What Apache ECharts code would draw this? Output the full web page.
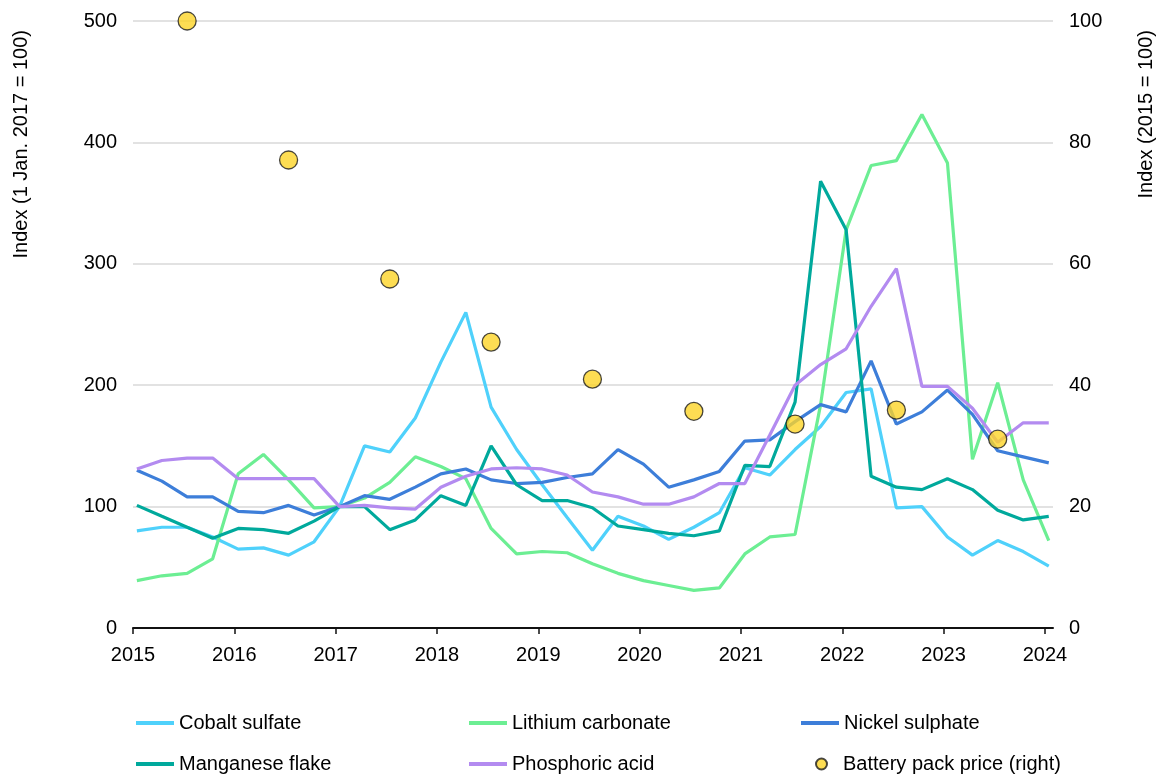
<!DOCTYPE html>
<html>
<head>
<meta charset="utf-8">
<script src="https://cdn.jsdelivr.net/npm/echarts@6/dist/echarts.min.js"></script>
<style>
  html, body { margin: 0; padding: 0; background: #ffffff; }
  #chart { width: 1158px; height: 778px; }
</style>
</head>
<body>
<div id="chart"></div>
<script>
// ---- Data ----
const quarterDates = [
  '2015-01-15','2015-04-15','2015-07-15','2015-10-15',
  '2016-01-15','2016-04-15','2016-07-15','2016-10-15',
  '2017-01-15','2017-04-15','2017-07-15','2017-10-15',
  '2018-01-15','2018-04-15','2018-07-15','2018-10-15',
  '2019-01-15','2019-04-15','2019-07-15','2019-10-15',
  '2020-01-15','2020-04-15','2020-07-15','2020-10-15',
  '2021-01-15','2021-04-15','2021-07-15','2021-10-15',
  '2022-01-15','2022-04-15','2022-07-15','2022-10-15',
  '2023-01-15','2023-04-15','2023-07-15','2023-10-15',
  '2024-01-15'
];
const cobaltSulfate = [80, 83, 83, 75, 65, 66, 60, 71, 100, 150, 145, 173, 219, 260, 182, 147, 118, 91, 64, 92, 84, 73, 83, 95, 132, 126, 147, 166, 194, 197, 99, 100, 75, 60, 72, 63, 51];
const lithiumCarbonate = [39, 43, 45, 57, 127, 143, 122, 99, 100, 107, 120, 141, 133, 123, 82, 61, 63, 62, 53, 45, 39, 35, 31, 33, 61, 75, 77, 184, 328, 381, 385, 423, 383, 139, 202, 122, 72];
const nickelSulphate = [130, 121, 108, 108, 96, 95, 101, 93, 100, 109, 106, 116, 127, 131, 122, 119, 120, 124, 127, 147, 135, 116, 122, 129, 154, 155, 170, 184, 178, 220, 168, 178, 196, 176, 146, 141, 136];
const manganeseFlake = [101, 92, 83, 74, 82, 81, 78, 88, 100, 100, 81, 89, 109, 101, 150, 118, 105, 105, 99, 84, 81, 78, 76, 80, 134, 133, 186, 368, 328, 125, 116, 114, 123, 114, 97, 89, 92];
const phosphoricAcid = [131, 138, 140, 140, 123, 123, 123, 123, 100, 101, 99, 98, 116, 125, 131, 132, 131, 126, 112, 108, 102, 102, 108, 119, 119, 159, 200, 217, 230, 265, 296, 199, 199, 181, 153, 169, 169];
const batteryDates = ['2015-07-15','2016-07-15','2017-07-15','2018-07-15','2019-07-15','2020-07-15','2021-07-15','2022-07-15','2023-07-15'];
const batteryPackPrice = [100, 77.1, 57.5, 47.1, 41.0, 35.7, 33.6, 35.9, 31.1];
const yearTicks = [2015, 2016, 2017, 2018, 2019, 2020, 2021, 2022, 2023, 2024];
const seriesNames = ['Cobalt sulfate', 'Lithium carbonate', 'Nickel sulphate', 'Manganese flake', 'Phosphoric acid', 'Battery pack price (right)'];
const leftAxisTitle = 'Index (1 Jan. 2017 = 100)';
const rightAxisTitle = 'Index (2015 = 100)';

// ---- Helpers ----
function toYear(s) {
  const d = new Date(s + 'T00:00:00Z');
  const y = d.getUTCFullYear();
  const start = Date.UTC(y, 0, 1), end = Date.UTC(y + 1, 0, 1);
  return y + (d.getTime() - start) / (end - start);
}
const qx = quarterDates.map(toYear);
const bx = batteryDates.map(toYear);
const pair = (xs, ys) => ys.map((v, i) => [xs[i], v]);

const colors = ['#4fd1fb', '#6cee93', '#3d7ed9', '#00a99c', '#b38bf0'];
const lineData = [cobaltSulfate, lithiumCarbonate, nickelSulphate, manganeseFlake, phosphoricAcid];

const FONT = 'Liberation Sans, Arial, sans-serif';

const series = lineData.map((d, i) => ({
  name: seriesNames[i],
  type: 'line',
  xAxisIndex: 0,
  yAxisIndex: 0,
  data: pair(qx, d),
  symbol: 'none',
  lineStyle: { color: colors[i], width: 3.2 },
  itemStyle: { color: colors[i] },
  z: 2 + i
}));
series.push({
  name: seriesNames[5],
  type: 'scatter',
  xAxisIndex: 0,
  yAxisIndex: 1,
  data: pair(bx, batteryPackPrice),
  symbol: 'circle',
  symbolSize: 18,
  itemStyle: { color: '#fdd428', borderColor: '#1a1a1a', borderWidth: 1.3 },
  z: 10
});

function legendItem(name, left, top, isCircle) {
  return {
    show: true,
    left: left,
    top: top,
    orient: 'horizontal',
    selectedMode: false,
    itemWidth: isCircle ? 11 : 38,
    itemHeight: isCircle ? 11 : 4,
    itemGap: 0,
    padding: 0,
    data: [{ name: name, icon: isCircle ? 'circle' : 'rect' }],
    textStyle: {
      color: '#000', fontSize: 20, fontFamily: FONT,
      padding: isCircle ? [0, 0, 0, 11] : 0
    }
  };
}

const option = {
  animation: false,
  backgroundColor: '#ffffff',
  grid: { left: 133, right: 105, top: 21, bottom: 150, containLabel: false },
  xAxis: {
    type: 'value',
    min: 2015,
    max: 2024.08,
    axisLine: { show: true, lineStyle: { color: '#111', width: 2 } },
    axisTick: { show: true, length: 6, lineStyle: { color: '#111', width: 1.5 }, customValues: yearTicks },
    axisLabel: {
      show: true, customValues: yearTicks, margin: 17,
      color: '#000', fontSize: 20, fontFamily: FONT,
      formatter: v => (Math.abs(v - Math.round(v)) < 1e-6 ? String(Math.round(v)) : '')
    },
    splitLine: { show: false }
  },
  yAxis: [
    {
      type: 'value', min: 0, max: 500, interval: 100, position: 'left',
      axisLine: { show: false }, axisTick: { show: false },
      axisLabel: { color: '#000', fontSize: 20, fontFamily: FONT, margin: 16 },
      splitLine: { show: true, lineStyle: { color: '#d9d9d9', width: 1.5 } }
    },
    {
      type: 'value', min: 0, max: 100, interval: 20, position: 'right',
      axisLine: { show: false }, axisTick: { show: false },
      axisLabel: { color: '#000', fontSize: 20, fontFamily: FONT, margin: 16 },
      splitLine: { show: false }
    }
  ],
  legend: [
    legendItem(seriesNames[0], 136, 713, false),
    legendItem(seriesNames[1], 469, 713, false),
    legendItem(seriesNames[2], 801, 713, false),
    legendItem(seriesNames[3], 136, 754, false),
    legendItem(seriesNames[4], 469, 754, false),
    legendItem(seriesNames[5], 815, 754, true)
  ],
  graphic: [
    {
      type: 'text', x: 21, y: 30, rotation: Math.PI / 2,
      style: { text: leftAxisTitle, fill: '#000', font: '20px ' + FONT, align: 'right', verticalAlign: 'middle' }
    },
    {
      type: 'text', x: 1146, y: 30, rotation: Math.PI / 2,
      style: { text: rightAxisTitle, fill: '#000', font: '20px ' + FONT, align: 'right', verticalAlign: 'middle' }
    }
  ],
  series: series
};

const chart = echarts.init(document.getElementById('chart'), null, { renderer: 'canvas' });
chart.setOption(option);
</script>
</body>
</html>
